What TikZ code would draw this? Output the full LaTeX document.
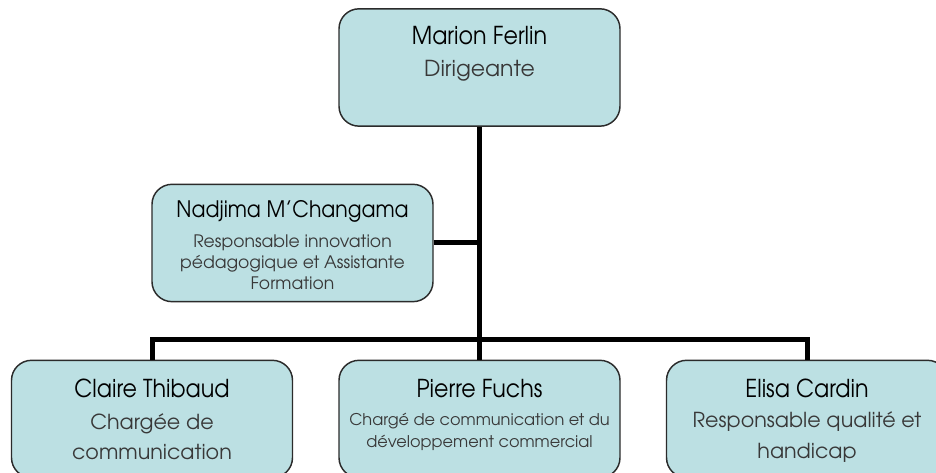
\documentclass[tikz,border=0pt]{standalone}
\usepackage{fontspec}
\setmainfont{TeX Gyre Adventor}
\newfontfamily\nomfont{TeX Gyre Adventor}[FakeStretch=0.9]
\usetikzlibrary{positioning}
\definecolor{boxfill}{HTML}{BCE0E3}
\definecolor{boxline}{HTML}{2B2B2B}
\definecolor{soustitre}{HTML}{383838}
\newcommand{\nom}[2][18.5]{{\color{black}\nomfont\fontsize{#1}{22}\selectfont #2}}
\newcommand{\serre}{\lineskiplimit=-100pt\relax}
\tikzset{poste/.style={draw=boxline, fill=boxfill, rounded corners=15pt, line width=1.1pt,
                       minimum width=210.75pt, minimum height=88pt, inner sep=0pt},
         titre/.style={align=center, inner sep=0pt, anchor=north, text=soustitre},
         lien/.style={line width=3.75pt, draw=black},
        }

\begin{document}
\begin{tikzpicture}[x=0.75pt,y=-0.75pt]
        \useasboundingbox(0,0)rectangle(936,473);
        \clip(0,0)rectangle(936,473);
        \node[poste](marion)at(479.5,67.5){};
        \node[poste](nadjima)at(292.5,243){};
        \node[poste](claire)at(152,419){};
        \node[poste](pierre)at(479.5,419){};
        \node[poste](elisa)at(807,419){};
        \coordinate(barre)at(479.5,340);

        \draw[lien](marion.south)--(pierre.north);
        \draw[lien](nadjima.east)--(nadjima.east -| marion.south);
        \draw[lien](claire.north)|-(barre)-|(elisa.north);

        \node[titre, below=13.5pt of marion.north, font=\fontsize{16.5}{24}\selectfont\serre](marion-t)
            {\nom{Marion Ferlin}\\Dirigeante};
        \node[titre, below=12.5pt of nadjima.north, font=\fontsize{12.9}{15.75}\selectfont\serre](nadjima-t)
            {\nom[17]{Nadjima M’Changama}\\[7pt]Responsable innovation\\pédagogique et Assistante\\Formation};
        \node[titre, below=14pt of claire.north, font=\fontsize{15.5}{22.5}\selectfont\serre](claire-t)
            {\nom{Claire Thibaud}\\[2pt]Chargée de\\communication};
        \node[titre, below=14.5pt of pierre.north, font=\fontsize{12.1}{16.5}\selectfont\serre](pierre-t)
            {\nom{Pierre Fuchs}\\[4.5pt]Chargé de communication et du\\développement commercial};
        \node[titre, below=14pt of elisa.north, font=\fontsize{15.5}{23}\selectfont\serre](elisa-t)
            {\nom{Elisa Cardin}\\Responsable qualité et\\handicap};
    \end{tikzpicture}
\end{document}
